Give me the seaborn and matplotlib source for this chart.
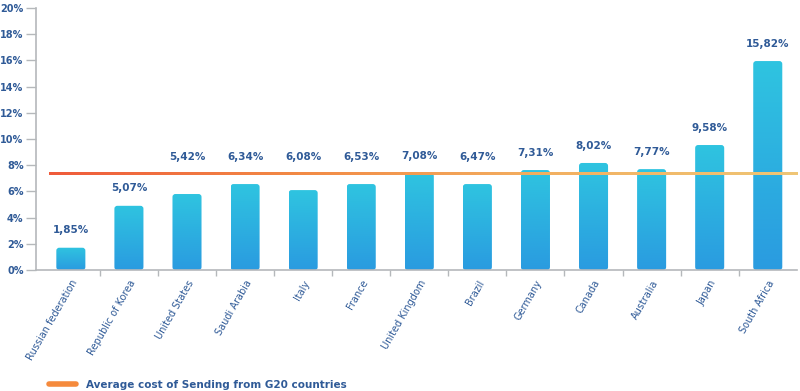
import numpy as np
import pandas as pd
import matplotlib
matplotlib.use("Agg")
import matplotlib.pyplot as plt
import seaborn as sns
from matplotlib.patches import FancyBboxPatch
from matplotlib.colors import LinearSegmentedColormap
from matplotlib.lines import Line2D

countries = ["Russian federation", "Republic of Korea", "United States", "Saudi Arabia",
             "Italy", "France", "United Kingdom", "Brazil", "Germany", "Canada",
             "Australia", "Japan", "South Africa"]
bar_values = [1.70, 4.90, 5.80, 6.56, 6.10, 6.56, 7.40, 6.56, 7.63, 8.17, 7.70, 9.54, 15.95]
value_labels = ["1,85%", "5,07%", "5,42%", "6,34%", "6,08%", "6,53%", "7,08%", "6,47%",
                "7,31%", "8,02%", "7,77%", "9,58%", "15,82%"]
average_cost = 7.33
legend_label = "Average cost of Sending from G20 countries"
y_ticks = [0, 2, 4, 6, 8, 10, 12, 14, 16, 18, 20]

TXT = "#2f5a97"
sns.set_style("white")
plt.rcParams["font.family"] = ["DejaVu Sans"]

fig = plt.figure(figsize=(8, 3.91), dpi=100)
ax = fig.add_axes([0.045, 1 - 270 / 391, 0.996 - 0.045, (270 - 8) / 391])

df = pd.DataFrame({"country": countries, "value": bar_values})
sns.barplot(data=df, x="country", y="value", ax=ax, width=0.5, color="#2bb0e0")

ax.set_xlim(-0.6, 12.5)
ax.set_ylim(0, 20)

# gradient rounded bars
grad = np.linspace(0, 1, 256).reshape(-1, 1)
cmap_bar = LinearSegmentedColormap.from_list("bar", ["#2a9be0", "#2fc4e0"])
for p in list(ax.patches):
    x0, y0 = p.get_x(), p.get_y()
    w, h = p.get_width(), p.get_height()
    p.set_visible(False)
    fb = FancyBboxPatch((x0, y0), w, h, boxstyle="round,pad=0,rounding_size=0.05",
                        mutation_aspect=4.43, facecolor="none", edgecolor="none",
                        transform=ax.transData)
    ax.add_patch(fb)
    im = ax.imshow(grad, extent=[x0, x0 + w, y0, y0 + h], origin="lower",
                   cmap=cmap_bar, aspect="auto", zorder=2)
    im.set_clip_path(fb)

# value labels: just above bar unless that would hit the average line
for i, (v, lab) in enumerate(zip(bar_values, value_labels)):
    y = v + 1.35 if v + 1.35 < average_cost - 0.9 else max(v + 1.3, 8.6)
    ax.text(i, y, lab, ha="center", va="center", fontsize=7.5,
            fontweight="bold", color=TXT)

# average line with horizontal colour gradient
cmap_line = LinearSegmentedColormap.from_list("ln", ["#ef5b3b", "#f28a45", "#f3b061", "#efc676"])
hgrad = np.linspace(0, 1, 512).reshape(1, -1)
ax.imshow(hgrad, extent=[-0.38, 12.5, average_cost - 0.09, average_cost + 0.09],
          cmap=cmap_line, aspect="auto", zorder=3, interpolation="bilinear")

ax.set_xlim(-0.6, 12.5)
ax.set_ylim(0, 20)

# axes styling
for s in ["top", "right"]:
    ax.spines[s].set_visible(False)
for s in ["left", "bottom"]:
    ax.spines[s].set_color("#b5b8bb")
    ax.spines[s].set_linewidth(1.2)

ax.set_yticks(y_ticks)
ax.set_yticklabels([f"{t}%" for t in y_ticks], fontsize=7, fontweight="bold", color=TXT)
ax.tick_params(axis="y", length=7, width=1, color="#b5b8bb", pad=2, left=True)

ax.set_xticks(range(len(countries)))
ax.set_xticklabels(countries, rotation=60, ha="right", rotation_mode="anchor",
                   fontsize=7, color=TXT)
ax.tick_params(axis="x", which="major", length=0, pad=6)
ax.set_xticks(np.arange(0.5, 12.5, 1), minor=True)
ax.tick_params(axis="x", which="minor", length=4, width=1, color="#b5b8bb", bottom=True)
ax.set_xlabel("")
ax.set_ylabel("")

handle = Line2D([], [], color="#f58a3c", linewidth=4, solid_capstyle="round")
fig.legend([handle], [legend_label], loc="center left", bbox_to_anchor=(0.056, 1 - 385 / 391),
           frameon=False, handlelength=2.6,
           prop={"weight": "bold", "size": 7.5}, labelcolor=TXT, borderaxespad=0,
           handletextpad=1.0)

fig.savefig("out.png", dpi=100)
